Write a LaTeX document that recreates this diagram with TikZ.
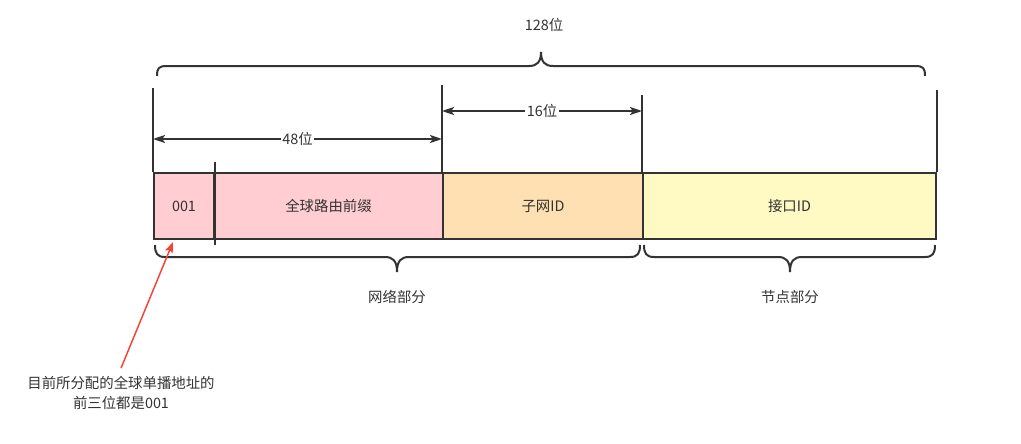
\documentclass[tikz,border=0pt]{standalone}
\usepackage{fontspec}
\setmainfont{Noto Sans CJK SC}
\usetikzlibrary{arrows.meta, positioning}
\definecolor{linegray}{HTML}{333333}
\definecolor{prefixpink}{HTML}{FFCDD2}
\definecolor{subnetorange}{HTML}{FFE0B2}
\definecolor{ifaceyellow}{HTML}{FFF9C4}
\definecolor{notered}{HTML}{F44336}

\begin{document}
\begin{tikzpicture}[x=0.75pt, y=0.75pt, color=linegray, line width=1.5pt,
  font=\fontsize{10.8}{15}\selectfont,
  field/.style={draw=linegray, line width=1.5pt, minimum height=49.5pt, anchor=north west, inner sep=0pt},
  dimline/.style={{Stealth[length=9pt,width=6pt,inset=2pt]}-{Stealth[length=9pt,width=6pt,inset=2pt]}},
  dimlabel/.style={fill=white, inner sep=1pt},
  notearrow/.style={draw=notered, line width=1.1pt, -{Stealth[length=8pt,width=6pt,inset=1.5pt]}}]
\useasboundingbox (0,0) rectangle (1021,-443);
% Felder der Adresse
\node[field, fill=prefixpink, minimum width=45pt] (pre001) at (153,-172) {001};
\node[field, fill=prefixpink, minimum width=171.75pt] (globalpre) at (213,-172) {全球路由前缀};
\node[field, fill=subnetorange, minimum width=150pt] (subnet) at (442,-172) {子网ID};
\node[field, fill=ifaceyellow, minimum width=219.75pt] (iface) at (642,-172) {接口ID};
% Trennstrich nach 001
\draw ([yshift=7.5pt]pre001.north east) -- ([yshift=-3.75pt]pre001.south east);
% Hilfslinien
\draw (pre001.north west) -- ++(0,84);
\draw (subnet.north west) -- ++(0,87);
\draw (iface.north west) -- ++(0,77);
\draw (iface.north east) -- ++(0,82);
% Bemassung
\coordinate (w48s) at (153,-139);
\coordinate (w48e) at (442,-139);
\coordinate (w16s) at (442,-111);
\coordinate (w16e) at (642,-111);
\draw[dimline] (w48s) -- node[dimlabel] {48位} (w48e);
\draw[dimline] (w16s) -- node[dimlabel] {16位} (w16e);
% Klammer oben
\draw (157,-76) .. controls (157,-68) and (159,-66) .. (167,-66) -- (529,-66)
  .. controls (537,-66) and (541,-62) .. (541,-52)
  .. controls (541,-62) and (545,-66) .. (553,-66) -- (915,-66)
  .. controls (923,-66) and (925,-68) .. (925,-76);
\node (total) at (544,-25) {128位};
% Klammern unten
\draw (155,-245) .. controls (155,-253) and (157,-257) .. (165,-257) -- (385,-257)
  .. controls (393,-257) and (397,-261) .. (397,-272)
  .. controls (397,-261) and (401,-257) .. (409,-257) -- (630,-257)
  .. controls (638,-257) and (640,-253) .. (640,-245);
\draw (644,-245) .. controls (644,-253) and (646,-257) .. (654,-257) -- (778,-257)
  .. controls (786,-257) and (790,-261) .. (790,-272)
  .. controls (790,-261) and (794,-257) .. (802,-257) -- (925,-257)
  .. controls (933,-257) and (935,-253) .. (935,-245);
\node (netpart) at (397,-297) {网络部分};
\node (hostpart) at (790,-297) {节点部分};
% Hinweis
\node[align=center] (note) at (121,-393) {目前所分配的全球单播地址的\\前三位都是001};
\draw[notearrow] ([yshift=2pt]note.north) -- ([xshift=15pt,yshift=-1.5pt]pre001.south west);
\end{tikzpicture}
\end{document}
